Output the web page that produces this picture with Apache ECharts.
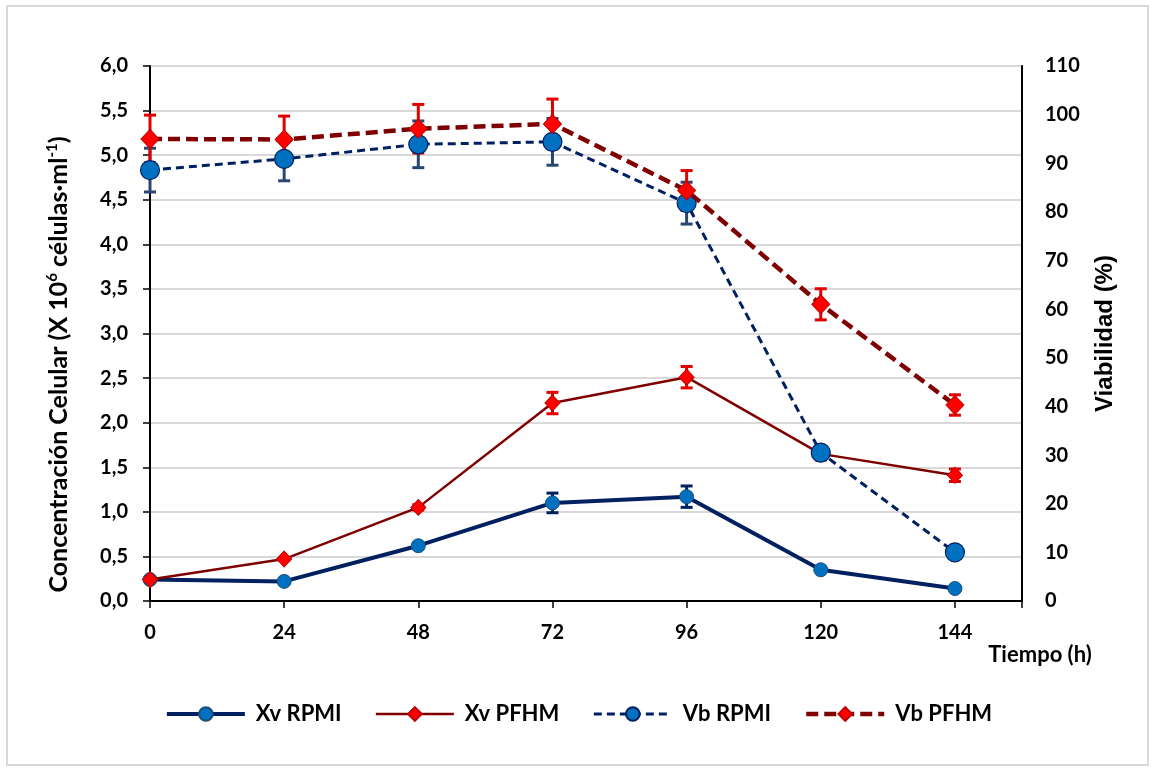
<!DOCTYPE html>
<html>
<head>
<meta charset="utf-8">
<script src="https://cdn.jsdelivr.net/npm/echarts@6/dist/echarts.min.js"></script>
<style>
  html, body { margin: 0; padding: 0; background: #fff; }
  #chart { width: 1157px; height: 771px; }
</style>
</head>
<body>
<div id="chart"></div>
<script>
// Tiempo de cultivo (h)
const hours = [0, 24, 48, 72, 96, 120, 144];

// Concentración de células viables (x10^6 células/ml) y desviaciones
const xvRpmi    = [0.24, 0.22, 0.62, 1.10, 1.17, 0.35, 0.14];
const xvRpmiErr = [0.01, 0.01, 0.03, 0.11, 0.12, 0.02, 0.01];
const xvPfhm    = [0.24, 0.47, 1.05, 2.22, 2.51, 1.65, 1.41];
const xvPfhmErr = [0.01, 0.01, 0.03, 0.12, 0.12, 0.07, 0.07];

// Viabilidad (%) y desviaciones
const vbRpmi    = [88.6, 90.9, 93.9, 94.4, 81.8, 30.5, 10.0];
const vbRpmiErr = [4.5, 4.5, 4.8, 4.8, 4.3, 1.0, 0.5];
const vbPfhm    = [95.0, 94.9, 97.1, 98.1, 84.4, 61.0, 40.3];
const vbPfhmErr = [4.9, 4.8, 5.0, 5.1, 4.1, 3.2, 2.1];

// Marcas de los ejes
const leftTicks = { min: 0, max: 6, interval: 0.5 };
const rightTicks = { min: 0, max: 110, interval: 10 };
const timeTicks = { min: 0, max: 156, interval: 24 };

const NAVY = '#002060';
const DARKRED = '#7f0000';
const BLUE_FILL = '#0070c0';
const RED_FILL = '#ff0000';

const pts = (ys) => hours.map((h, i) => [h, ys[i]]);
const errPts = (ys, es) => hours.map((h, i) => [h, ys[i] - es[i], ys[i] + es[i]]);

function errorBars(name, ys, es, yAxisIndex, color, z) {
  return {
    type: 'custom',
    name: name + ' err',
    xAxisIndex: 0,
    yAxisIndex: yAxisIndex,
    z: z,
    silent: true,
    data: errPts(ys, es),
    renderItem: function (params, api) {
      const x = api.value(0);
      const lo = api.coord([x, api.value(1)]);
      const hi = api.coord([x, api.value(2)]);
      const cap = 6;
      const style = { stroke: color, lineWidth: 3 };
      return {
        type: 'group',
        children: [
          { type: 'line', shape: { x1: lo[0], y1: lo[1], x2: hi[0], y2: hi[1] }, style: style },
          { type: 'line', shape: { x1: hi[0] - cap, y1: hi[1], x2: hi[0] + cap, y2: hi[1] }, style: style },
          { type: 'line', shape: { x1: lo[0] - cap, y1: lo[1], x2: lo[0] + cap, y2: lo[1] }, style: style }
        ]
      };
    }
  };
}

const labelFont = { fontFamily: 'Lato', fontWeight: 'bold', fontSize: 20, color: '#000' };

const option = {
  animation: false,
  backgroundColor: '#fff',
  graphic: [{
    type: 'rect',
    shape: { x: 7, y: 6, width: 1141, height: 759 },
    style: { fill: 'none', stroke: '#d9d9d9', lineWidth: 2 },
    silent: true,
    z: -10
  }],
  grid: {
    left: 150, right: 135, top: 66, bottom: 170,
    show: true, borderColor: '#000', borderWidth: 1.5, backgroundColor: 'transparent'
  },
  legend: {
    data: ['Xv RPMI', 'Xv PFHM', 'Vb RPMI', 'Vb PFHM'],
    bottom: 41,
    left: 'center',
    itemWidth: 78,
    itemHeight: 17,
    itemGap: 33,
    lineStyle: { width: 'inherit', type: 'inherit' },
    textStyle: Object.assign({}, labelFont, { fontSize: 22, padding: [0, 0, 0, 6] })
  },
  xAxis: {
    type: 'value',
    min: timeTicks.min, max: timeTicks.max, interval: timeTicks.interval,
    name: 'Tiempo (h)',
    nameLocation: 'end',
    nameGap: 18,
    nameTextStyle: Object.assign({}, labelFont, { fontSize: 22, align: 'center', verticalAlign: 'top', padding: [43, 0, 0, 0] }),
    axisLine: { show: true, lineStyle: { color: '#000', width: 2 } },
    axisTick: { show: true, length: 7, lineStyle: { color: '#000', width: 1.5 } },
    axisLabel: Object.assign({}, labelFont, {
      margin: 22,
      formatter: (v) => (v > 144 ? '' : String(v))
    }),
    splitLine: { show: false }
  },
  yAxis: [{
    type: 'value',
    min: leftTicks.min, max: leftTicks.max, interval: leftTicks.interval,
    name: '{t|Concentración Celular (X 10}{s|6}{t| células·ml}{s|-1}{t|)}',
    nameLocation: 'middle',
    nameGap: 77,
    nameTextStyle: {
      padding: [0, 62, 0, 0],
      rich: {
        t: { fontFamily: 'Lato', fontWeight: 'bold', fontSize: 25, color: '#000', lineHeight: 28 },
        s: { fontFamily: 'Lato', fontWeight: 'bold', fontSize: 15, color: '#000', verticalAlign: 'top', lineHeight: 28, padding: [0, 0, 10, 0] }
      }
    },
    axisLine: { show: true, lineStyle: { color: '#000', width: 2 } },
    axisTick: { show: true, length: 7, lineStyle: { color: '#000', width: 1.5 } },
    axisLabel: Object.assign({}, labelFont, {
      margin: 22,
      formatter: (v) => v.toFixed(1).replace('.', ',')
    }),
    splitLine: { show: true, lineStyle: { color: '#d9d9d9', width: 2 } }
  }, {
    type: 'value',
    position: 'right',
    min: rightTicks.min, max: rightTicks.max, interval: rightTicks.interval,
    name: 'Viabilidad (%)',
    nameLocation: 'middle',
    nameGap: 71,
    nameTextStyle: { fontFamily: 'Liberation Sans', fontWeight: 'bold', fontSize: 24, color: '#000' },
    axisLine: { show: true, lineStyle: { color: '#000', width: 2 } },
    axisTick: { show: false },
    axisLabel: Object.assign({}, labelFont, { margin: 23 }),
    splitLine: { show: false }
  }],
  series: [
    errorBars('Xv RPMI', xvRpmi, xvRpmiErr, 0, NAVY, 3),
    errorBars('Xv PFHM', xvPfhm, xvPfhmErr, 0, '#e00000', 3),
    errorBars('Vb RPMI', vbRpmi, vbRpmiErr, 1, '#2a4670', 3),
    errorBars('Vb PFHM', vbPfhm, vbPfhmErr, 1, '#e00000', 3),
    {
      name: 'Xv RPMI', type: 'line', yAxisIndex: 0, z: 4,
      data: pts(xvRpmi),
      lineStyle: { color: NAVY, width: 4 },
      symbol: 'circle', symbolSize: 14,
      itemStyle: { color: BLUE_FILL, borderColor: '#1f4e79', borderWidth: 1 }
    },
    {
      name: 'Xv PFHM', type: 'line', yAxisIndex: 0, z: 5,
      data: pts(xvPfhm),
      lineStyle: { color: DARKRED, width: 2.5 },
      symbol: 'diamond', symbolSize: [15, 16],
      itemStyle: { color: RED_FILL, borderColor: '#c00000', borderWidth: 1 }
    },
    {
      name: 'Vb RPMI', type: 'line', yAxisIndex: 1, z: 6,
      data: pts(vbRpmi),
      lineStyle: { color: NAVY, width: 3, type: [8, 5] },
      symbol: 'circle', symbolSize: 19,
      itemStyle: { color: BLUE_FILL, borderColor: NAVY, borderWidth: 1.2 }
    },
    {
      name: 'Vb PFHM', type: 'line', yAxisIndex: 1, z: 7,
      data: pts(vbPfhm),
      lineStyle: { color: DARKRED, width: 4.5, type: [12, 6] },
      symbol: 'diamond', symbolSize: [18, 19],
      itemStyle: { color: RED_FILL, borderColor: '#c00000', borderWidth: 1 }
    }
  ]
};

const chart = echarts.init(document.getElementById('chart'), null, { renderer: 'canvas' });
chart.setOption(option);
</script>
</body>
</html>
